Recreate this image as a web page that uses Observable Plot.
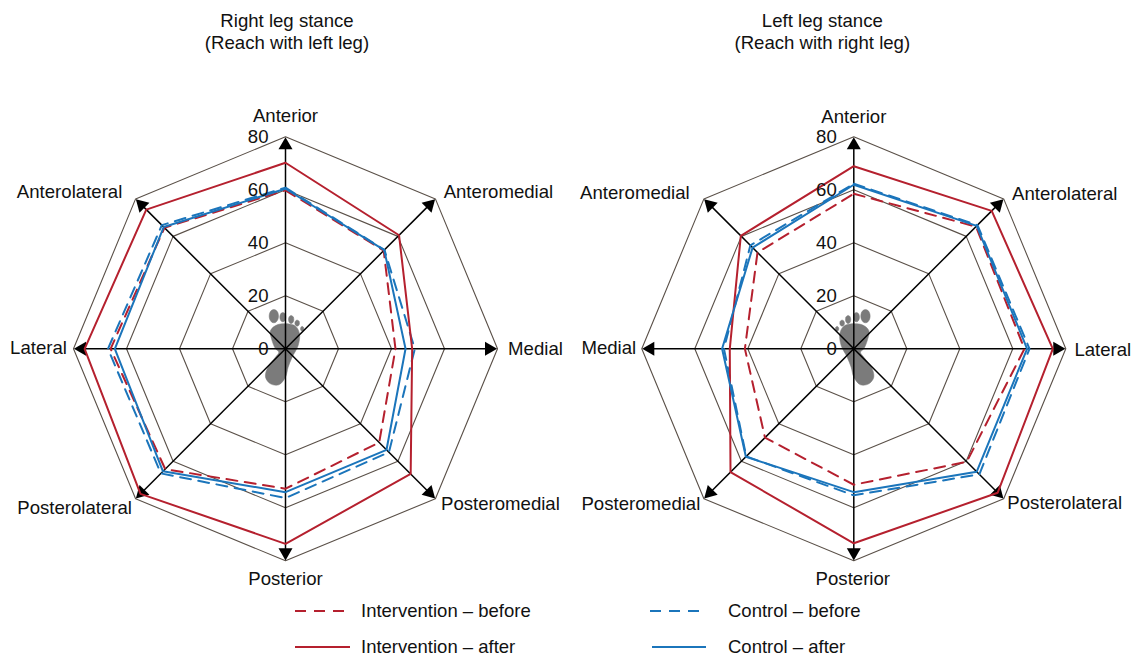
<!DOCTYPE html>
<html>
<head>
<meta charset="utf-8">
<script src="https://cdn.jsdelivr.net/npm/d3@7"></script>
<script src="https://cdn.jsdelivr.net/npm/@observablehq/plot@0.6"></script>
<style>
  html, body { margin: 0; padding: 0; background: #fff; }
  body { width: 1131px; height: 658px; overflow: hidden; font-family: "Liberation Sans", Arial, sans-serif; color: #111; }
  #panels { display: flex; height: 595px; }
  #panels svg { display: block; overflow: visible; background: transparent; }
  #legend { position: relative; height: 63px; font-size: 18.5px; line-height: 14px; }
  .item { position: absolute; display: flex; align-items: center; height: 14px; white-space: nowrap; }
  .item svg { display: block; flex: none; }
  .item span { display: block; }
</style>
</head>
<body>
<div id="panels"></div>
<div id="legend"></div>
<script>
// ---- Data -------------------------------------------------------------
const ticks = [0, 20, 40, 60, 80];

const leftDirections  = ["Anterior", "Anteromedial", "Medial", "Posteromedial", "Posterior", "Posterolateral", "Lateral", "Anterolateral"];
const rightDirections = ["Anterior", "Anterolateral", "Lateral", "Posterolateral", "Posterior", "Posteromedial", "Medial", "Anteromedial"];

const leftInterventionBefore  = [59.8, 52.4, 41.5, 50.0, 52.8, 64.2, 66.0, 64.6];
const leftControlBefore       = [60.8, 52.8, 48.8, 55.2, 56.3, 66.5, 67.0, 66.0];
const leftInterventionAfter   = [70.2, 60.6, 47.8, 66.8, 73.6, 77.4, 75.8, 74.3];
const leftControlAfter        = [60.4, 52.7, 45.3, 53.9, 54.1, 65.4, 64.4, 65.0];

const rightInterventionBefore = [58.5, 65.2, 64.4, 60.3, 51.3, 47.4, 41.1, 51.4];
const rightControlBefore      = [62.3, 66.0, 66.3, 67.0, 55.3, 57.4, 49.0, 55.2];
const rightInterventionAfter  = [68.9, 73.6, 75.1, 76.8, 73.4, 65.8, 46.8, 60.3];
const rightControlAfter       = [61.9, 65.6, 65.4, 65.6, 54.1, 57.6, 49.7, 54.0];

const seriesNames = ["Intervention – before", "Control – before", "Intervention – after", "Control – after"];

// Foot silhouette, in chart units × 7.95, drawn for the left panel and mirrored on the right.
const footOutline = [[-25,72],[5,75],[30,68],[42,45],[38,10],[20,-25],[8,-55],[0,-85],[-20,-108],[-45,-105],[-60,-85],[-53,-55],[-30,-25],[-20,-10],[-30,0],[-42,30],[-45,55]];
const toeCentres  = [[-35,98],[-8,95],[17,88],[35,77],[50,60]];
const toeRadii    = [[14,20],[9,14],[8,12],[7,9],[5,7]];

// ---- Layout and styles ------------------------------------------------
const unit = 2.65;              // px per percent
const centerY = 348.3, panelH = 595;
const red = "#b5202e", blue = "#1b75bb", ink = "#111", gridInk = "#5a5048", footInk = "#7b7b7b";
const dash = "11,7.5";
const styles = [
  {stroke: red,  strokeDasharray: dash},
  {stroke: blue, strokeDasharray: dash},
  {stroke: red},
  {stroke: blue}
];
const polar = (r, i) => ({x: r * Math.sin(i * Math.PI / 4), y: r * Math.cos(i * Math.PI / 4)});

const closed = (values) => [...values, values[0]].map((v, i) => polar(v, i));

function footRows(mirror) {
  const s = (mirror ? -1 : 1) / 7.95, t = 1 / 7.95;
  const rows = footOutline.map(([a, b]) => ({x: a * s, y: b * t, part: "sole"}));
  toeCentres.forEach(([a, b], k) => {
    const [ra, rb] = toeRadii[k];
    for (let j = 0; j < 12; ++j) {
      const u = j * Math.PI / 6;
      rows.push({x: (a + ra * Math.cos(u)) * s, y: (b + rb * Math.sin(u)) * t, part: "toe" + k});
    }
  });
  return rows;
}

function panel({width, centerX, directions, series, title, titleDx, labelOffsets, mirror}) {
  const text = {fontFamily: "Liberation Sans, Arial, sans-serif", fontSize: 18.6, fill: ink};
  const marks = [
    // rings
    ...ticks.filter((t) => t > 0).map((t) =>
      Plot.line(closed(directions.map(() => t)), {x: "x", y: "y", stroke: gridInk, strokeWidth: 1.1})),
    // foot
    Plot.line(footRows(mirror), {x: "x", y: "y", z: "part", curve: "catmull-rom-closed", fill: footInk, stroke: footInk, strokeWidth: 0.5}),
    // spokes
    Plot.link(directions.map((d, i) => polar(78, i)), {x1: () => 0, y1: () => 0, x2: "x", y2: "y", stroke: "#000", strokeWidth: 1.5}),
    Plot.dot(directions.map((d, i) => ({...polar(76.8, i), rotate: i * 45})), {x: "x", y: "y", rotate: "rotate", symbol: "triangle", r: 5.2, fill: "#000", stroke: "none"}),
    // series
    ...series.map((values, k) =>
      Plot.line(closed(values), {x: "x", y: "y", strokeWidth: 2, strokeLinejoin: "miter", ...styles[k]})),
    // tick labels
    Plot.text(ticks, {x: () => 0, y: (d) => d, text: (d) => String(d), textAnchor: "end", dx: -17, ...text}),
    // direction labels
    ...directions.map((d, i) =>
      Plot.text([d], {x: () => polar(80, i).x, y: () => polar(80, i).y, text: (v) => v, dx: labelOffsets[i][0], dy: labelOffsets[i][1], ...text})),
    // panel title
    Plot.text([title], {x: () => 0, y: () => centerY / unit, text: (v) => v, dx: titleDx, dy: 30.5, lineHeight: 1.2, ...text})
  ];
  return Plot.plot({
    width, height: panelH,
    marginTop: 0, marginRight: 0, marginBottom: 0, marginLeft: 0,
    x: {domain: [-centerX / unit, (width - centerX) / unit], range: [0, width], axis: null},
    y: {domain: [centerY / unit, -(panelH - centerY) / unit], range: [0, panelH], axis: null},
    marks
  });
}

const panels = document.getElementById("panels");
panels.append(panel({
  width: 568, centerX: 285,
  directions: leftDirections,
  series: [leftInterventionBefore, leftControlBefore, leftInterventionAfter, leftControlAfter],
  title: "Right leg stance\n(Reach with left leg)",
  titleDx: 1.5,
  mirror: false,
  labelOffsets: [[0,-21],[63,-7],[38,0],[65,5],[0,18],[-61,9],[-35,-1],[-66,-7]]
}));
panels.append(panel({
  width: 563, centerX: 285.3,
  directions: rightDirections,
  series: [rightInterventionBefore, rightControlBefore, rightInterventionAfter, rightControlAfter],
  title: "Left leg stance\n(Reach with right leg)",
  titleDx: -31.5,
  mirror: true,
  labelOffsets: [[0,-20],[61,-5],[37,1],[61,4],[-1,18],[-63,5],[-33,-1],[-69,-6]]
}));

// ---- Legend -----------------------------------------------------------
const legendCells = [
  {left: 295, top: 9,  swatch: 50, gap: 16},
  {left: 650, top: 9,  swatch: 56, gap: 22},
  {left: 295, top: 45, swatch: 55, gap: 11},
  {left: 652, top: 45, swatch: 54, gap: 22}
];
const legend = document.getElementById("legend");
seriesNames.forEach((name, k) => {
  const cell = legendCells[k], st = styles[k];
  const item = document.createElement("div");
  item.className = "item";
  item.style.left = cell.left + "px";
  item.style.top = cell.top + "px";
  const ns = "http://www.w3.org/2000/svg";
  const svg = document.createElementNS(ns, "svg");
  svg.setAttribute("width", cell.swatch);
  svg.setAttribute("height", 4);
  const ln = document.createElementNS(ns, "line");
  ln.setAttribute("x1", 0); ln.setAttribute("x2", cell.swatch);
  ln.setAttribute("y1", 2); ln.setAttribute("y2", 2);
  ln.setAttribute("stroke", st.stroke);
  ln.setAttribute("stroke-width", 2);
  if (st.strokeDasharray) ln.setAttribute("stroke-dasharray", "11,8");
  svg.append(ln);
  const label = document.createElement("span");
  label.textContent = name;
  label.style.marginLeft = cell.gap + "px";
  item.append(svg, label);
  legend.append(item);
});
</script>
</body>
</html>
